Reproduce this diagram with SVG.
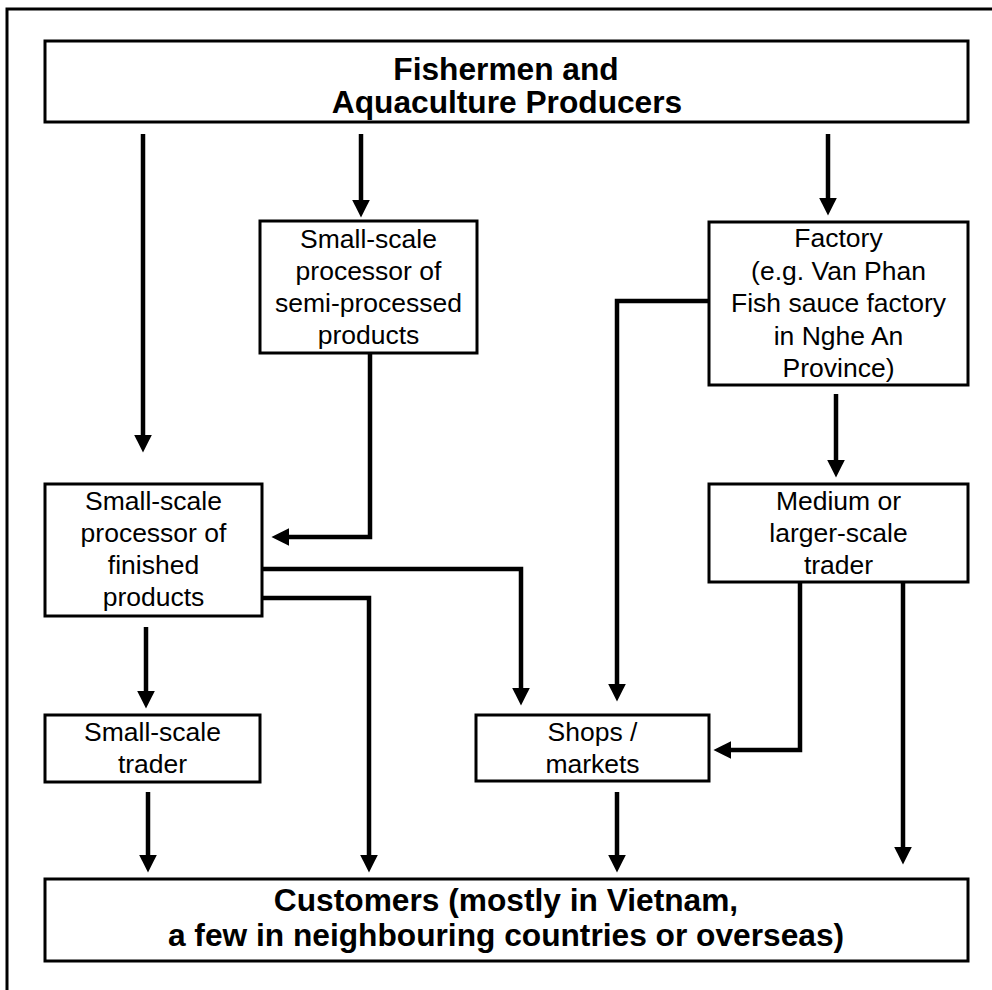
<svg xmlns="http://www.w3.org/2000/svg" width="992" height="990" viewBox="0 0 992 990">
  <style>
    .box { fill: #fff; stroke: #000; stroke-width: 3; }
    .frame { fill: none; stroke: #000; stroke-width: 3; }
    .t { font-family: "Liberation Sans", Arial, sans-serif; font-size: 26.5px; fill: #000; text-anchor: middle; }
    .tb { font-family: "Liberation Sans", Arial, sans-serif; font-size: 31.7px; font-weight: bold; fill: #000; text-anchor: middle; }
    .c { fill: none; stroke: #000; stroke-width: 4.5; stroke-linejoin: miter; marker-end: url(#ah); }
  </style>
  <defs>
    <marker id="ah" markerUnits="userSpaceOnUse" markerWidth="18" markerHeight="18" viewBox="0 0 17 17" refX="7" refY="8.5" orient="auto">
      <path d="M0,0 L17,8.5 L0,17 Z" fill="#000"/>
    </marker>
  </defs>
  <rect width="992" height="990" fill="#fff"/>
  <path class="frame" d="M7,995 V9 H997"/>

  <g id="producers">
    <rect class="box" x="45" y="41" width="923" height="81"/>
    <text class="tb" x="506" y="80">Fishermen and</text>
    <text class="tb" x="507" y="113">Aquaculture Producers</text>
  </g>
  <g id="semi-processor">
    <rect class="box" x="260" y="221" width="217" height="132"/>
    <text class="t" x="368.5" y="248">Small-scale</text>
    <text class="t" x="368.5" y="280">processor of</text>
    <text class="t" x="368.5" y="312">semi-processed</text>
    <text class="t" x="368.5" y="344">products</text>
  </g>
  <g id="factory">
    <rect class="box" x="709" y="222" width="259" height="163"/>
    <text class="t" x="838.5" y="247">Factory</text>
    <text class="t" x="838.5" y="280">(e.g. Van Phan</text>
    <text class="t" x="838.5" y="312">Fish sauce factory</text>
    <text class="t" x="838.5" y="345">in Nghe An</text>
    <text class="t" x="838.5" y="377">Province)</text>
  </g>
  <g id="finished-processor">
    <rect class="box" x="45" y="484" width="217" height="132"/>
    <text class="t" x="153.5" y="510">Small-scale</text>
    <text class="t" x="153.5" y="542">processor of</text>
    <text class="t" x="153.5" y="574">finished</text>
    <text class="t" x="153.5" y="606">products</text>
  </g>
  <g id="medium-trader">
    <rect class="box" x="709" y="484" width="259" height="98"/>
    <text class="t" x="838.5" y="510">Medium or</text>
    <text class="t" x="838.5" y="542">larger-scale</text>
    <text class="t" x="838.5" y="574">trader</text>
  </g>
  <g id="small-trader">
    <rect class="box" x="45" y="715" width="215" height="67"/>
    <text class="t" x="152.5" y="741">Small-scale</text>
    <text class="t" x="152.5" y="773">trader</text>
  </g>
  <g id="shops">
    <rect class="box" x="476" y="715" width="233" height="66"/>
    <text class="t" x="592.5" y="741">Shops /</text>
    <text class="t" x="592.5" y="773">markets</text>
  </g>
  <g id="customers">
    <rect class="box" x="45" y="879" width="923" height="82"/>
    <text class="tb" x="506" y="911">Customers (mostly in Vietnam,</text>
    <text class="tb" x="506" y="946">a few in neighbouring countries or overseas)</text>
  </g>

  <g id="connectors">
    <path class="c" d="M143,134 V442"/>
    <path class="c" d="M361,134 V207"/>
    <path class="c" d="M828,134 V205"/>
    <path class="c" d="M370,353 V537 H282"/>
    <path class="c" d="M709,301 H617 V691"/>
    <path class="c" d="M836,394 V467"/>
    <path class="c" d="M262,569 H521 V695"/>
    <path class="c" d="M262,598 H369 V862"/>
    <path class="c" d="M146,627 V698"/>
    <path class="c" d="M800,583 V750 H724"/>
    <path class="c" d="M903,583 V854"/>
    <path class="c" d="M148,792 V862"/>
    <path class="c" d="M617,792 V862"/>
  </g>
</svg>
